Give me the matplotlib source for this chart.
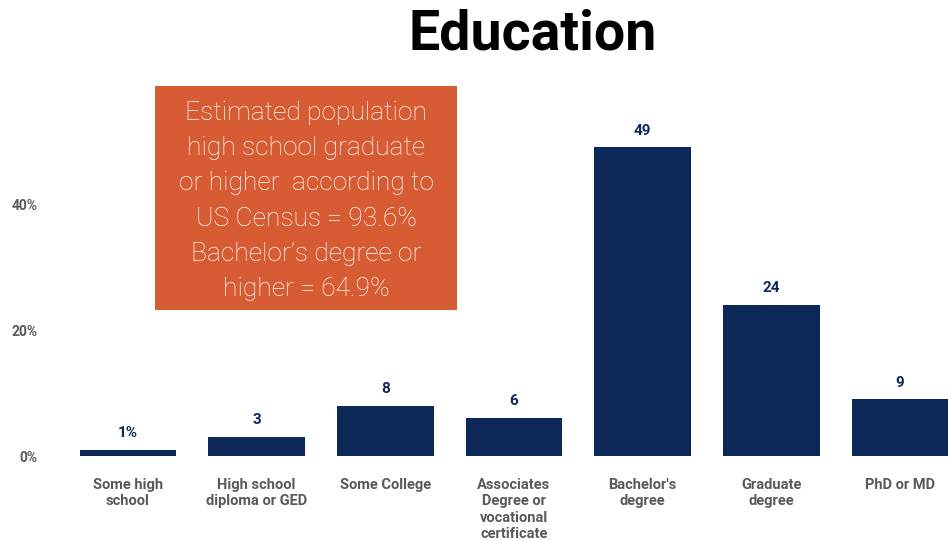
import matplotlib
matplotlib.use("Agg")
import matplotlib.pyplot as plt
from matplotlib.patches import Rectangle

categories = [
    "Some high\nschool",
    "High school\ndiploma or GED",
    "Some College",
    "Associates\nDegree or\nvocational\ncertificate",
    "Bachelor's\ndegree",
    "Graduate\ndegree",
    "PhD or MD",
]
values = [1, 3, 8, 6, 49, 24, 9]
value_labels = ["1%", "3", "8", "6", "49", "24", "9"]
y_ticks = [0, 20, 40]
y_tick_labels = ["0%", "20%", "40%"]
note_lines = [
    "Estimated population",
    "high school graduate",
    "or higher  according to",
    "US Census = 93.6%",
    "Bachelor\u2019s degree or",
    "higher = 64.9%",
]

NAVY = "#0B2858"
GRAY = "#595959"
ORANGE = "#D75B33"

W, H = 948, 540
fig = plt.figure(figsize=(W / 100, H / 100), dpi=100)
ax = fig.add_axes([60 / W, (H - 456) / H, 888 / W, 356 / H])

x = list(range(len(categories)))
ax.bar(x, values, width=0.75, color=NAVY, zorder=2)
ax.set_xlim(-0.528, 6.373)
ax.set_ylim(0, 356 / 6.3)

for xi, v, lab in zip(x, values, value_labels):
    ax.annotate(lab, (xi, v), xytext=(0, 7), textcoords="offset points",
                ha="center", va="bottom", color=NAVY, fontsize=11,
                fontweight="bold", family="Roboto")

ax.set_yticks(y_ticks)
ax.set_yticklabels(y_tick_labels, fontsize=10, color=GRAY,
                   fontweight="bold", family="Roboto")
ax.set_xticks(x)
ax.set_xticklabels(categories, fontsize=10.5, color=GRAY, fontweight="bold",
                   family="Roboto", va="top", linespacing=1.2)
ax.tick_params(axis="y", length=0, pad=16)
ax.tick_params(axis="x", length=0, pad=16)
for s in ax.spines.values():
    s.set_visible(False)

fig.text(533 / W, 1 - 34 / H, "Education", ha="center", va="center",
         fontsize=40, fontweight="bold", family="Roboto", color="black")

fig.patches.append(Rectangle((155 / W, 1 - 310 / H), 302 / W, 224 / H,
                             transform=fig.transFigure, facecolor=ORANGE,
                             edgecolor="none", zorder=5))
for i, line in enumerate(note_lines):
    fig.text(306 / W, 1 - (113 + 35.2 * i) / H, line, ha="center",
             va="center", fontsize=19, color="white", family="Roboto",
             fontweight="light", zorder=6)

fig.savefig("out.png", dpi=100)
